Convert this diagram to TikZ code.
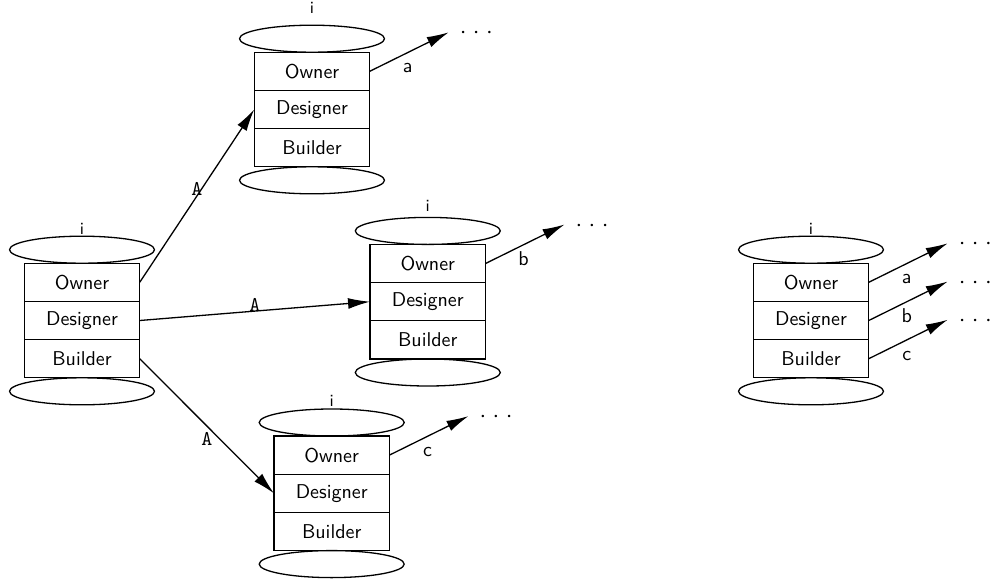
\documentclass[tikz,border=0pt]{standalone}
\usetikzlibrary{shapes.geometric,arrows.meta,calc}
\newcommand\drawstack[4]{%
  \node[row] (#1-d) at (#2,#3) {Designer};
  \node[row, anchor=south] (#1-o) at (#1-d.north) {Owner};
  \node[row, anchor=north] (#1-b) at (#1-d.south) {Builder};
  \node[ell, anchor=south] (#1-top) at (#1-o.north) {};
  \node[ell, anchor=north] (#1-bot) at (#1-b.south) {};
  \node[ilbl] (#1-i) at ([yshift=#4]#1-top.north) {i};
}
\newcommand\outarrow[3]{%
  \coordinate (#2) at ($(#1.east)+(39.5pt,19.5pt)$);
  \draw[arr] (#1.east) -- (#2);
  \node[lbl, anchor=base] (#2-l) at ($(#1.east)+(19pt,-0.75pt)$) {#3};
  \node[dots, anchor=base west] (#2-d) at ($(#2)+(5.2pt,-3.25pt)$) {${\cdot}\hspace{3.25pt}{\cdot}\hspace{3.25pt}{\cdot}$};
}
\begin{document}
\begin{tikzpicture}[x=0.5pt,y=-0.5pt, line width=0.65pt,
  row/.style={draw, rectangle, minimum width=57.75pt, minimum height=19.1pt, inner sep=0pt, outer sep=0pt, font=\sffamily\fontsize{10}{12}\selectfont},
  ell/.style={draw, ellipse, minimum width=72.5pt, minimum height=13.5pt, inner sep=0pt, outer sep=0pt},
  ilbl/.style={font=\sffamily\fontsize{8.5}{10}\selectfont, inner sep=0pt, anchor=south},
  lbl/.style={font=\sffamily\fontsize{10}{12}\selectfont, inner sep=0pt},
  albl/.style={font=\ttfamily\fontsize{10.5}{12}\selectfont, inner sep=0pt},
  arr/.style={-{Latex[length=11pt,width=5.5pt]}},
  dots/.style={inner sep=0pt, font=\fontsize{13}{15}\selectfont}]
\useasboundingbox (0,0) rectangle (992,584);

\drawstack{s1}{82}{320.5}{0.5pt}
\drawstack{s2}{312}{109.5}{5.5pt}
\drawstack{s3}{427.8}{301.7}{2.5pt}
\drawstack{s4}{331.7}{493.3}{1pt}
\drawstack{s5}{811}{320.5}{0.5pt}

\draw[arr] (s1-o.east) -- node[albl, anchor=base] (A1) {A} (s2-d.west);
\draw[arr] (s1-d.east) -- node[albl, anchor=base] (A2) {A} (s3-d.west);
\draw[arr] (s1-b.east) -- node[albl, anchor=north, yshift=-3pt] (A3) {A} (s4-d.west);

\outarrow{s2-o}{t2}{a}
\outarrow{s3-o}{t3}{b}
\outarrow{s4-o}{t4}{c}
\outarrow{s5-o}{t5a}{a}
\outarrow{s5-d}{t5b}{b}
\outarrow{s5-b}{t5c}{c}
\end{tikzpicture}
\end{document}
